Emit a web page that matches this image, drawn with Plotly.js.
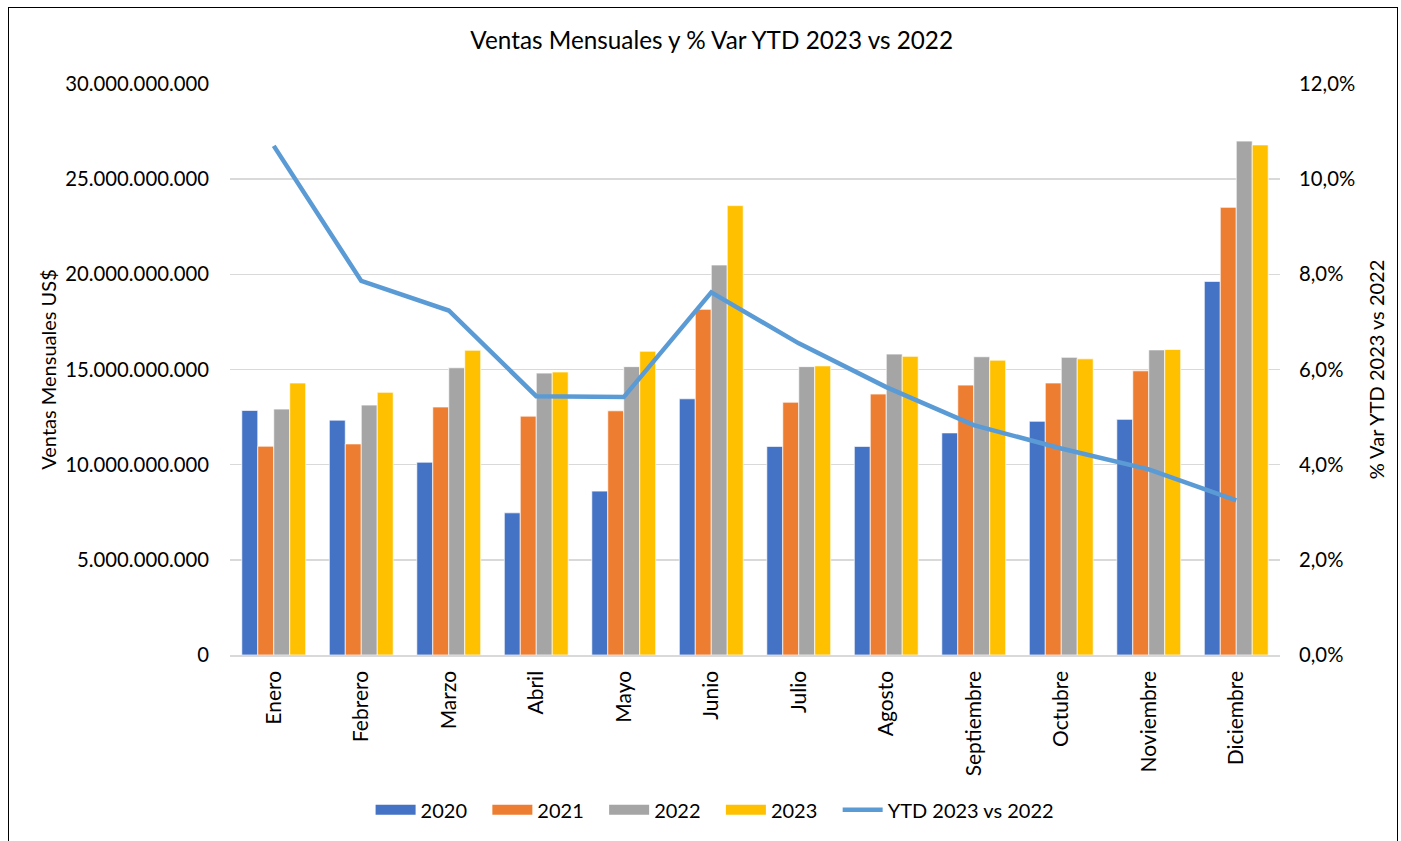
<!DOCTYPE html>
<html><head><meta charset="utf-8">
<script src="https://cdn.plot.ly/plotly-3.0.1.min.js"></script>
<style>
html,body{margin:0;padding:0;background:#fff;}
#chart{width:1401px;height:841px;}
#frame{position:absolute;left:8px;top:7px;width:1390px;height:840px;border:1.5px solid #000;box-sizing:border-box;pointer-events:none;}
</style></head>
<body>
<div id="chart"></div>
<div id="frame"></div>
<script>
const months = ["Enero","Febrero","Marzo","Abril","Mayo","Junio","Julio","Agosto","Septiembre","Octubre","Noviembre","Diciembre"];
const seriesNames = ["2020","2021","2022","2023"];
const v2020 = [12.85,12.34,10.13,7.47,8.61,13.46,10.96,10.96,11.67,12.28,12.38,19.63].map(v=>v*1e9);
const v2021 = [10.97,11.09,13.03,12.55,12.83,18.16,13.28,13.71,14.18,14.29,14.93,23.52].map(v=>v*1e9);
const v2022 = [12.92,13.13,15.09,14.81,15.15,20.49,15.15,15.81,15.67,15.64,16.03,27.00].map(v=>v*1e9);
const v2023 = [14.29,13.80,16.01,14.87,15.96,23.61,15.19,15.69,15.49,15.56,16.05,26.80].map(v=>v*1e9);
const ytd = [10.70,7.86,7.24,5.44,5.42,7.62,6.55,5.63,4.83,4.34,3.90,3.25].map(v=>v/100);
const lineName = "YTD 2023 vs 2022";

const colors = ['#4472C4','#ED7D31','#A5A5A5','#FFC000'];
const font = "Lato, Liberation Sans, Arial, sans-serif";
const pad = '\u00a0\u00a0\u00a0';
const values = [v2020, v2021, v2022, v2023];
const data = [];
values.forEach((y,i)=>{
  data.push({type:'bar', name:seriesNames[i], x:months, y:y, showlegend:false, legendgroup:seriesNames[i],
    marker:{color:colors[i], line:{color:'#ffffff', width:0.7}}});
});
// legend entries drawn as wide colour swatches
values.forEach((y,i)=>{
  data.push({type:'scatter', mode:'lines', name:seriesNames[i] + pad, x:[null], y:[null], legendgroup:seriesNames[i],
    line:{color:colors[i], width:14}, hoverinfo:'skip'});
});
data.push({type:'scatter', mode:'lines', name:lineName, x:months, y:ytd, yaxis:'y2', line:{color:'#5B9BD5', width:4.5}});

const layout = {
  width:1401, height:841,
  margin:{l:230, r:121, t:84, b:186},
  paper_bgcolor:'#fff', plot_bgcolor:'#fff',
  separators:',.',
  font:{family:font, size:20, color:'#000'},
  title:{text:'Ventas Mensuales y % Var YTD 2023 vs 2022', x:0.508, xanchor:'center', y:0.952, yanchor:'middle', font:{size:24.3, color:'#000', family:font}},
  barmode:'group', bargap:0.27, bargroupgap:0,
  xaxis:{tickangle:-90, showgrid:false, showline:true, linecolor:'#d9d9d9', linewidth:1.5, ticks:'', tickfont:{size:21}, ticklabelstandoff:6},
  yaxis:{range:[0,30e9], tick0:0, dtick:5e9, tickformat:',d', showgrid:true, gridcolor:'#d9d9d9', gridwidth:1.5, zeroline:false, ticks:'', ticklabelstandoff:20, tickfont:{size:20.3},
         title:{text:'Ventas Mensuales US$', font:{size:20}, standoff:3}},
  yaxis2:{overlaying:'y', side:'right', range:[0,0.12], tick0:0, dtick:0.02, tickformat:'.1%', showgrid:false, zeroline:false, ticks:'', ticklabelstandoff:18, tickfont:{size:20.3},
          title:{text:'% Var YTD 2023 vs 2022', font:{size:20}, standoff:15}},
  legend:{orientation:'h', x:0.462, xanchor:'center', y:-0.271, yanchor:'middle', font:{size:20}, traceorder:'normal', itemwidth:40},
  showlegend:true
};
Plotly.newPlot('chart', data, layout, {displayModeBar:false, staticPlot:true});
</script>
</body></html>
